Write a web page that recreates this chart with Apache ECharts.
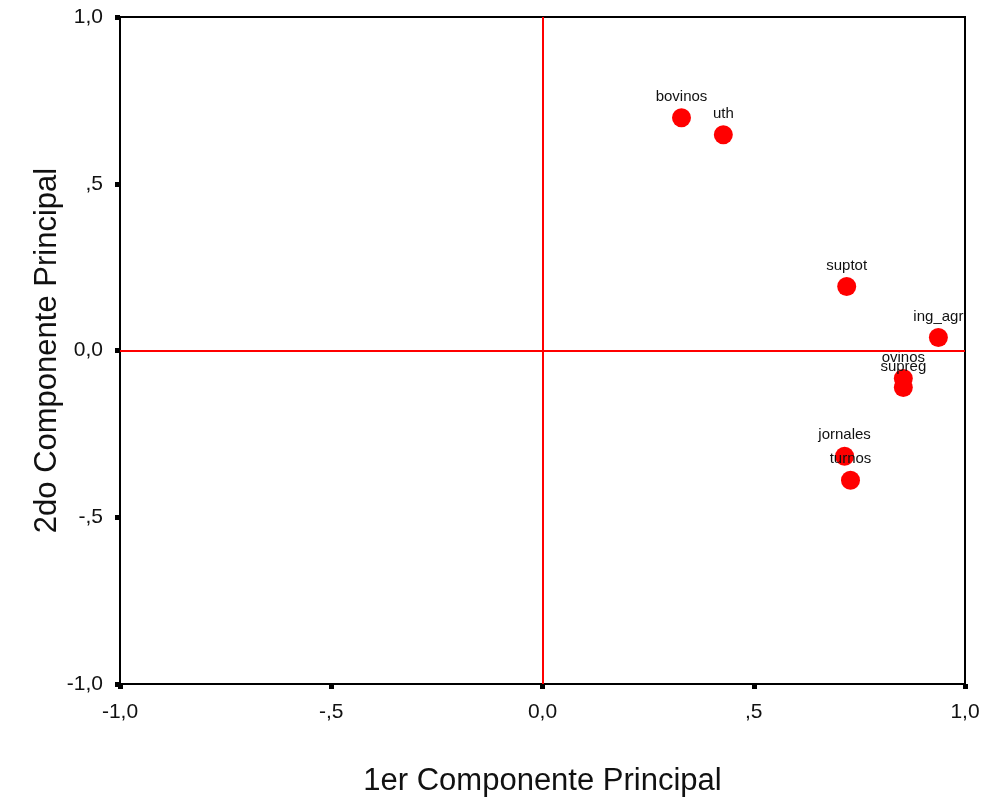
<!DOCTYPE html>
<html>
<head>
<meta charset="utf-8">
<script src="https://cdn.jsdelivr.net/npm/echarts@6/dist/echarts.min.js"></script>
<style>html,body{margin:0;padding:0;background:#fff}#c{width:984px;height:804px}</style>
</head>
<body>
<div id="c"></div>
<script>
const names = ['bovinos','uth','suptot','ing_agr','ovinos','supreg','jornales','turnos'];
const comp1 = [0.329, 0.428, 0.720, 0.937, 0.854, 0.854, 0.715, 0.729];
const comp2 = [0.698, 0.647, 0.192, 0.039, -0.084, -0.111, -0.317, -0.389];
const tickLabels = {'-1':'-1,0','-0.5':'-,5','0':'0,0','0.5':',5','1':'1,0'};

const font = 'Liberation Sans, Arial, sans-serif';
const fmt = v => tickLabels[String(Math.round(v*10)/10)] || '';
const data = names.map((n,i)=>({name:n, value:[comp1[i], comp2[i]]}));

const chart = echarts.init(document.getElementById('c'));
chart.setOption({
  animation:false,
  textStyle:{fontFamily:font},
  grid:{left:120,right:19,top:17,bottom:120,show:true,borderColor:'#000',borderWidth:2,backgroundColor:'transparent'},
  xAxis:{type:'value',min:-1,max:1,interval:0.5,
    name:'1er Componente Principal',nameLocation:'middle',nameGap:82,nameMoveOverlap:false,
    nameTextStyle:{fontSize:31,color:'#111',fontFamily:font},
    axisLine:{show:true,onZero:false,lineStyle:{color:'#000',width:2}},
    axisTick:{show:true,length:5,lineStyle:{color:'#000',width:5}},
    axisLabel:{formatter:fmt,fontSize:21,color:'#111',margin:18,fontFamily:font},
    splitLine:{show:false}},
  yAxis:{type:'value',min:-1,max:1,interval:0.5,
    name:'2do Componente Principal',nameLocation:'middle',nameGap:57,nameMoveOverlap:false,
    nameTextStyle:{fontSize:31,color:'#111',fontFamily:font},
    axisLine:{show:true,onZero:false,lineStyle:{color:'#000',width:2}},
    axisTick:{show:true,length:5,lineStyle:{color:'#000',width:5}},
    axisLabel:{formatter:fmt,fontSize:21,color:'#111',margin:17,fontFamily:font},
    splitLine:{show:false}},
  series:[{
    type:'scatter',
    data:data,
    symbolSize:19,
    itemStyle:{color:'#ff0000',opacity:1},
    label:{show:true,position:'top',distance:4,formatter:'{b}',fontSize:15,color:'#111',fontFamily:font},
    markLine:{silent:true,symbol:'none',label:{show:false},
      lineStyle:{color:'#ff0000',width:2,type:'solid'},
      data:[{xAxis:0},{yAxis:0}]},
    z:3
  }]
});
</script>
</body>
</html>
